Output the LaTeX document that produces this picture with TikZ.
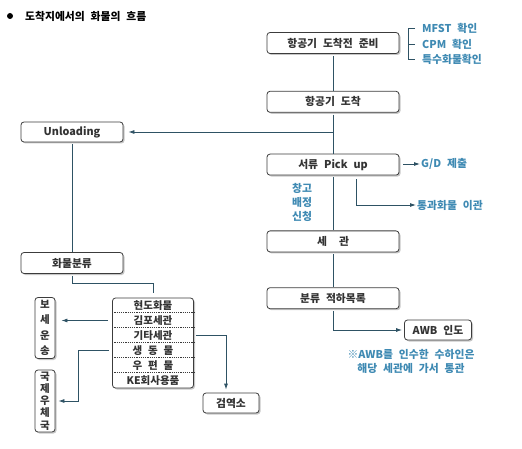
\documentclass[tikz,border=0pt]{standalone}
\usepackage{fontspec}
\newfontfamily\kr[WordSpace=2.4]{Noto Sans CJK KR}
\usetikzlibrary{arrows.meta,positioning,calc,shadows}
\definecolor{flowLine}{RGB}{46,82,100}
\definecolor{flowBlue}{RGB}{63,138,179}
\definecolor{flowText}{RGB}{51,51,51}
\definecolor{flowEdge}{RGB}{60,60,60}

\begin{document}
\begin{tikzpicture}[x=1pt,y=-1pt,
    box/.style={draw=flowEdge,line width=0.8pt,fill=white,rounded corners=3pt,minimum width=132pt,minimum height=21pt,inner sep=0pt,text=flowText,font=\kr\bfseries\fontsize{10.8}{12}\selectfont,drop shadow={shadow xshift=1.5pt,shadow yshift=-1.5pt,fill=black!22,opacity=1}},
    item/.style={text=flowText,font=\kr\bfseries\fontsize{10.5}{12}\selectfont,minimum width=81pt,minimum height=15pt,inner sep=0pt},
    note/.style={text=flowBlue,font=\kr\bfseries\fontsize{10.8}{14}\selectfont,inner sep=0pt},
    link/.style={flowLine,line width=0.8pt,shorten <=2pt},
    arrow/.style={link,-{Latex[length=6pt,width=4pt]}},
    divider/.style={flowEdge,line width=0.7pt,dash pattern=on 1.2pt off 1pt}
  ]
    \useasboundingbox (0,0) rectangle (522,449);
    % title
    \node[circle,fill=black,inner sep=0pt,minimum size=6pt] (dot) at (10,16) {};
    \node[anchor=west,inner sep=0pt,font=\kr\bfseries\fontsize{10.8}{12}\selectfont] (title) at (25,16) {도착지에서의 화물의 흐름};

    % main column
    \node[box] (prep) at (333,43) {항공기 도착전 준비};
    \node[box,below=37pt of prep] (arrive) {항공기 도착};
    \node[box,below=41pt of arrive] (pickup) {서류 Pick up};
    \node[box,below=55pt of pickup] (customs) {세\hspace{12pt}관};
    \node[box,below=35pt of customs] (sort) {분류 적하목록};
    \node[box,minimum width=67pt,minimum height=20pt] (awb) at (438,330) {AWB 인도};

    % side notes
    \node[note,anchor=west] (mfst) at (422,28) {MFST 확인};
    \node[note,anchor=west] (cpm) at (422,44) {CPM 확인};
    \node[note,anchor=west] (special) at (422,59) {특수화물확인};
    \node[note,anchor=west] (gd) at (421,164) {G/D 제출};
    \node[note,anchor=west] (transit) at (417,205) {통과화물 이관};
    \node[note,align=center] (depot) at (302,202) {창고\\배정\\신청};
    \node[note,align=center] (awbnote) at (411,361) {※AWB를 인수한 수하인은\\해당 세관에 가서 통관};

    % left side
    \node[box,minimum width=102pt,minimum height=20pt] (unload) at (72,132) {Unloading};
    \node[box,minimum width=102pt,minimum height=21pt] (cargosort) at (72,263) {화물분류};
    \node[box,minimum width=81pt,minimum height=90pt] (items) at (153,343) {};
    \foreach \txt [count=\i] in {현도화물,김포세관,기타세관,생 동 물,우 편 물,KE회사용품}
      \node[item] (item\i) at (153,290.5+15*\i) {\txt};
    \foreach \k in {1,...,5}
      \draw[divider] ($(items.north west)+(0,15*\k)$) -- ($(items.north east)+(0,15*\k)$);
    \node[box,minimum width=20pt,minimum height=61pt,align=center,font=\kr\bfseries\fontsize{10.5}{15.5}\selectfont] (bonded) at (45,328) {보\\세\\운\\송};
    \node[box,minimum width=20pt,minimum height=62pt,align=center,font=\kr\bfseries\fontsize{10.5}{12.2}\selectfont] (post) at (45,401) {국\\제\\우\\체\\국};
    \node[box,minimum width=56pt,minimum height=20pt] (quarantine) at (231,403) {검역소};

    % connectors
    \draw[link] (prep) -- (arrive);
    \draw[link] (arrive) -- (pickup);
    \draw[link] (pickup) -- (customs);
    \draw[link] (customs) -- (sort);
    \draw[arrow,shorten <=0pt,shorten >=5pt] (arrive.south |- unload.east) -- (unload.east);
    \draw[arrow,shorten >=2pt] (sort) |- (awb);
    \draw[link,shorten <=0pt] ([xshift=-7pt]mfst.west) -- ++(-7,0) |- ([xshift=-7pt]special.west);
    \draw[link,shorten <=0pt] ([xshift=-14pt]cpm.west) -- ([xshift=-7pt]cpm.west);
    \draw[arrow,shorten <=4pt,shorten >=1pt] (pickup.east |- gd) -- (gd.west);
    \draw[arrow,shorten <=4pt,shorten >=1pt] ($(pickup.south)+(23,0)$) |- (transit.west);
    \draw[link] (unload) -- (cargosort);
    \draw[link] (cargosort.south) -- ++(0,9.5) -| ($(items.north)+(0,-5)$);
    \draw[arrow,shorten <=4pt,shorten >=6pt] (items.west |- item2) -- (bonded.east |- item2);
    \draw[arrow,shorten <=3pt,shorten >=3pt] (items.west |- item4) -- ++(-34,0) |- (post.east);
    \draw[arrow,shorten >=3pt] (items.east |- item3) -| ($(quarantine.north)+(-5,0)$);
  \end{tikzpicture}
\end{document}
